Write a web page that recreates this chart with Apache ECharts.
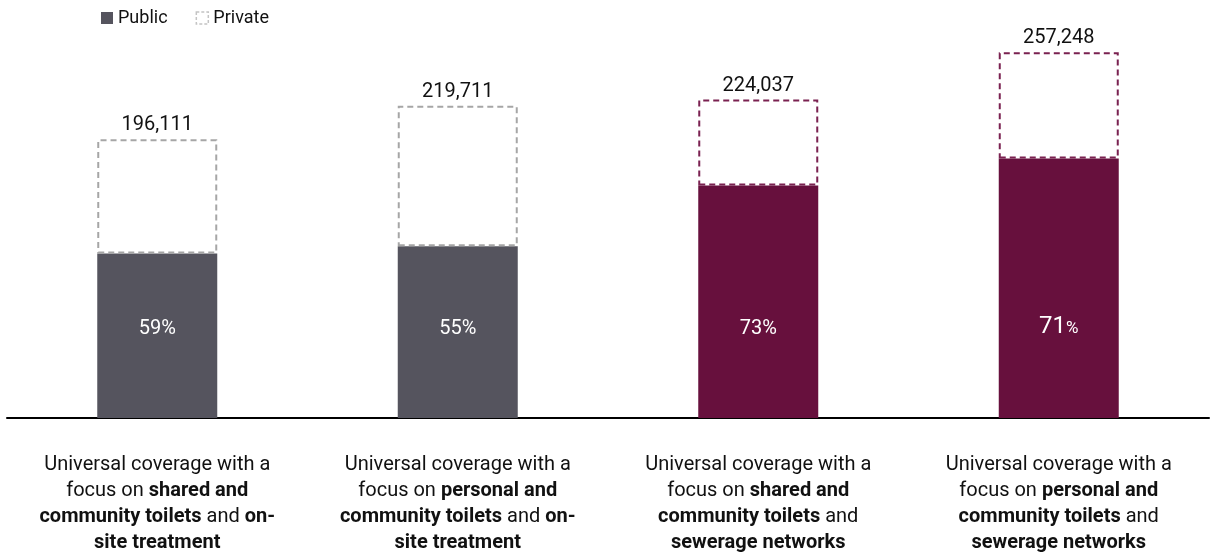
<!DOCTYPE html>
<html>
<head>
<meta charset="utf-8">
<script src="https://cdn.jsdelivr.net/npm/echarts@6/dist/echarts.min.js"></script>
<style>
  html, body { margin: 0; padding: 0; background: #fff; }
  #chart { width: 1210px; height: 554px; }
</style>
</head>
<body>
<div id="chart"></div>
<script>
// Scenario names; **...** marks the bold phrases, \n the line breaks
const categories = [
  'Universal coverage with a\nfocus on **shared and**\n**community toilets** and **on-**\n**site treatment**',
  'Universal coverage with a\nfocus on **personal and**\n**community toilets** and **on-**\n**site treatment**',
  'Universal coverage with a\nfocus on **shared and**\n**community toilets** and\n**sewerage networks**',
  'Universal coverage with a\nfocus on **personal and**\n**community toilets** and\n**sewerage networks**'
];
// Total cost per scenario
const totals = [196111, 219711, 224037, 257248];
// Public share of the total, in percent
const publicShare = [59, 55, 73, 71];

// Colours per scenario
const publicColors = ['#55545e', '#55545e', '#67103d', '#67103d'];
const privateBorders = ['#a6a6a6', '#a6a6a6', '#7a2150', '#7a2150'];

const publicValues = totals.map((t, i) => t * publicShare[i] / 100);
const privateValues = totals.map((t, i) => t - publicValues[i]);

function toRich(text) {
  return text.split('\n').map(line => {
    const parts = line.split('**');
    return parts.map((p, k) => p === '' ? '' : (k % 2 ? '{b|' + p + '}' : '{n|' + p + '}')).join('');
  }).join('\n');
}

function shareLabel(i) {
  return i === 3 ? '{big|' + publicShare[i] + '}{s|%}' : '{v|' + publicShare[i] + '%}';
}

const FONT = 'Roboto, "Liberation Sans", sans-serif';
const chart = echarts.init(document.getElementById('chart'));
chart.setOption({
  animation: false,
  textStyle: { fontFamily: FONT },
  legend: {
    left: 96, top: 4,
    icon: 'rect',
    itemWidth: 12, itemHeight: 12, itemGap: 28,
    textStyle: { fontSize: 18, color: '#111', fontFamily: FONT },
    data: [
      { name: 'Public', itemStyle: { color: '#55545e', borderWidth: 0 } },
      { name: 'Private', itemStyle: { color: '#fff', borderColor: '#c4c4c4', borderWidth: 1.5, borderType: [3, 2] } }
    ]
  },
  grid: { left: 7, right: 1, top: 20, bottom: 136 },
  xAxis: {
    type: 'category',
    data: categories,
    axisLine: { lineStyle: { color: '#000', width: 2 } },
    axisTick: { show: false },
    axisLabel: {
      interval: 0,
      margin: 34,
      formatter: v => toRich(v),
      rich: {
        n: { fontSize: 20, lineHeight: 26, color: '#111', fontFamily: FONT },
        b: { fontSize: 20, lineHeight: 26, color: '#111', fontWeight: 'bold', fontFamily: FONT }
      }
    }
  },
  yAxis: {
    type: 'value', min: 0, max: 280000,
    show: false, splitLine: { show: false }
  },
  series: [
    {
      name: 'Public',
      type: 'bar',
      stack: 'cost',
      barWidth: 120,
      itemStyle: { color: publicColors[0] },
      data: publicValues.map((v, i) => ({ value: v, itemStyle: { color: publicColors[i] } })),
      label: {
        show: true,
        position: 'insideBottom',
        distance: 79,
        formatter: p => shareLabel(p.dataIndex),
        rich: {
          v: { fontSize: 20, color: '#fff', fontFamily: FONT },
          big: { fontSize: 24, color: '#fff', fontFamily: FONT },
          s: { fontSize: 17, color: '#fff', fontFamily: FONT, padding: [4, 0, 0, 0] }
        }
      }
    },
    {
      name: 'Private',
      type: 'bar',
      stack: 'cost',
      barWidth: 120,
      itemStyle: { color: '#fff', borderColor: privateBorders[0], borderWidth: 2, borderType: [6, 4] },
      data: privateValues.map((v, i) => ({
        value: v,
        itemStyle: { color: '#fff', borderColor: privateBorders[i], borderWidth: 2, borderType: [6, 4] }
      })),
      label: {
        show: true,
        position: 'top',
        distance: 4,
        fontSize: 20,
        color: '#111',
        fontFamily: FONT,
        formatter: p => totals[p.dataIndex].toLocaleString('en-US')
      }
    }
  ]
});
</script>
</body>
</html>
